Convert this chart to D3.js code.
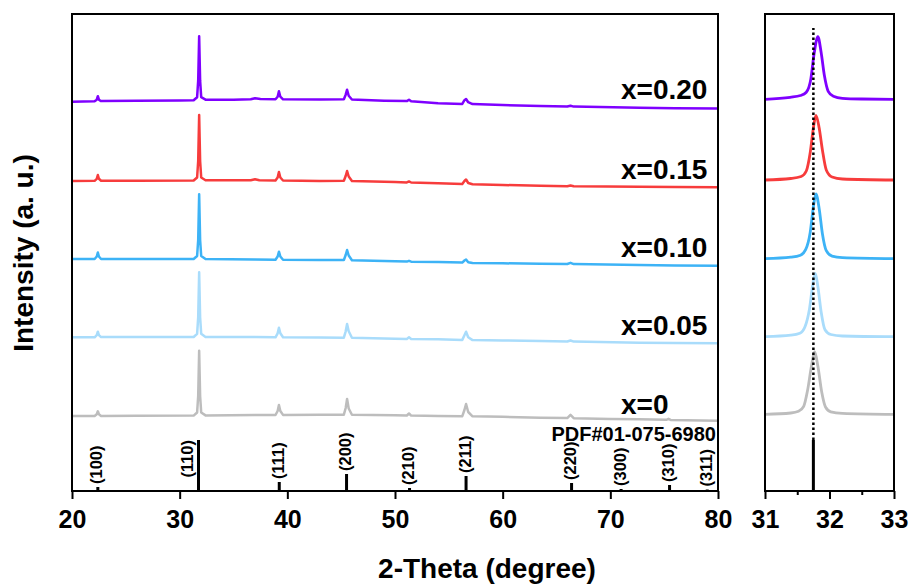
<!DOCTYPE html>
<html>
<head>
<meta charset="utf-8">
<script src="https://cdn.jsdelivr.net/npm/d3@7"></script>
<style>
  html, body { margin: 0; padding: 0; background: #fff; }
  svg { display: block; }
  text { font-family: "Liberation Sans", Arial, Helvetica, sans-serif; font-weight: bold; fill: #000; }
</style>
</head>
<body>
<svg id="chart" width="913" height="586"></svg>
<script>
// ---------- data ----------
// sample labels (doping level x), bottom to top
const seriesLabels = ["x=0", "x=0.05", "x=0.10", "x=0.15", "x=0.20"];

// vertical stacking offsets of each pattern (a.u.)
const mainOffsets = [75, 153.7, 232, 310, 389.3];
const zoomOffsets = [76.7, 154.3, 232.3, 311, 391.7];

// full-range patterns, [2-theta, intensity above offset]
const pattern_x000 = [[20,0],[22.1,0],[22.3,1.8],[22.4,4.7],[22.5,1.8],[22.7,0.1],[26,0.2],[31.3,0.4],[31.62,3.5],[31.72,20],[31.81,65.3],[31.9,20],[32.0,3.5],[32.4,0.6],[37,1],[38.9,1],[39.1,5],[39.22,11],[39.35,5],[39.6,1.1],[43,1.3],[45.25,1.3],[45.42,8],[45.55,17],[45.7,7.5],[46.0,1.2],[50,0.7],[51.1,0.5],[51.3,2.5],[51.5,0.4],[54,0],[56.25,-0.2],[56.45,6],[56.6,12],[56.8,4],[57.2,-0.3],[60,-0.8],[63.5,-1.7],[66,-2.1],[66.3,1.2],[66.6,-2.2],[70,-2.9],[72.7,-3.3],[75.2,-3.8],[75.4,-2.8],[75.6,-3.9],[80,-4.7]];
const pattern_x005 = [[20,0],[22.1,0],[22.3,2.2],[22.4,5.6],[22.5,2.2],[22.7,0.2],[26,0.3],[31.3,0.3],[31.62,3.5],[31.72,20],[31.81,65],[31.9,20],[32.0,3.5],[32.4,0.3],[37,0.3],[38.9,0],[39.1,4],[39.22,9.6],[39.35,4],[39.6,0],[43,-0.3],[45.25,-0.4],[45.42,6],[45.55,13.3],[45.7,6],[46.0,-0.5],[50,-1.4],[51.1,-1.6],[51.3,0],[51.5,-1.7],[54,-2],[56.25,-2.6],[56.45,2],[56.6,5.6],[56.8,0],[57.2,-2.8],[60,-3.1],[63.5,-3.7],[66,-4.2],[66.3,-3.2],[66.6,-4.3],[72.7,-5.4],[76,-5.7],[80,-6]];
const pattern_x010 = [[20,0],[22.1,0],[22.3,2.5],[22.4,6.5],[22.5,2.5],[22.7,0],[26,0],[31.3,0],[31.62,3],[31.72,19],[31.81,64.7],[31.9,19],[32.0,3],[32.4,0],[37,-0.5],[38.9,-0.7],[39.1,2.5],[39.22,7.3],[39.35,2.5],[39.6,-0.7],[43,-1],[45.25,-1],[45.42,4],[45.55,9],[45.7,3.5],[46.0,-1.2],[50,-2.3],[51.1,-2.6],[51.3,-1.8],[51.5,-2.7],[54,-3],[56.25,-3.6],[56.45,-1.5],[56.6,-0.5],[56.8,-3.2],[57.2,-3.9],[60,-4.3],[63.5,-4.7],[66,-5],[66.3,-3.8],[66.6,-5.1],[72.7,-6],[76,-6.4],[80,-6.7]];
const pattern_x015 = [[20,0],[22.1,0.2],[22.3,2.2],[22.4,6],[22.5,2.2],[22.7,0.3],[26,0.3],[31.3,0.5],[31.62,3.5],[31.72,20],[31.81,66],[31.9,20],[32.0,3.5],[32.4,0.8],[36.6,0.8],[37.0,1.8],[37.4,0.8],[38.9,0.6],[39.1,3.5],[39.22,9],[39.35,3.5],[39.6,0.5],[43,0.1],[45.25,0.2],[45.42,5],[45.55,10],[45.7,4.5],[46.0,0],[50,-1],[51.1,-1.4],[51.3,-0.4],[51.5,-1.5],[54,-2.2],[56.25,-3],[56.45,0],[56.6,1.5],[56.8,-2],[57.2,-3.2],[60,-4],[63.5,-4.8],[66,-5.2],[66.3,-4.5],[66.6,-5.3],[72.7,-5.8],[76,-6.1],[80,-6.3]];
const pattern_x020 = [[20,0],[22.1,0.5],[22.3,2],[22.4,5.5],[22.5,2],[22.7,0.6],[26,1],[30,1.2],[31.3,1.5],[31.62,4.5],[31.72,21],[31.81,65.5],[31.9,21],[32.0,4.5],[32.4,2],[35,2],[36.6,2.4],[37.0,3.5],[37.5,2.6],[38.9,2.4],[39.1,5],[39.22,10.5],[39.35,5],[39.6,2.4],[43,2.1],[45.25,2.5],[45.42,7],[45.55,12],[45.7,6],[46.0,2.2],[49,1],[51.1,0.6],[51.3,2],[51.5,0.4],[54,-1.6],[56.25,-2.2],[56.45,1.5],[56.6,2.7],[56.8,-0.5],[57.2,-2.4],[60,-3.4],[63.5,-4.3],[66,-4.8],[66.3,-4],[66.6,-4.9],[72.7,-6.1],[76,-6.5],[80,-6.8]];

// (110) peak region, 31-33 degrees, [2-theta, intensity above offset]
const zoom_x000 = [[31,0],[31.4,1.3],[31.52,3],[31.6,8],[31.66,24],[31.72,48],[31.77,62.6],[31.82,48],[31.88,22],[31.94,7],[32.02,2.5],[32.2,1],[33,0]];
const zoom_x005 = [[31,0],[31.4,1.5],[31.54,3.5],[31.62,10],[31.69,28],[31.74,52],[31.78,63.4],[31.82,50],[31.87,25],[31.93,7],[32.02,2.2],[32.2,0.7],[33,0]];
const zoom_x010 = [[31,0],[31.4,1.5],[31.55,3.5],[31.63,9],[31.7,26],[31.75,52],[31.79,64.7],[31.84,50],[31.89,25],[31.95,8],[32.04,2.5],[32.2,1],[33,0]];
const zoom_x015 = [[31,0],[31.4,1.5],[31.56,3.5],[31.64,9],[31.7,27],[31.75,52],[31.79,64.7],[31.84,52],[31.89,30],[31.95,10],[32.04,3],[32.2,1],[33,0]];
const zoom_x020 = [[31,0],[31.39,2],[31.55,3.8],[31.64,7],[31.71,20],[31.76,45],[31.82,62.6],[31.87,47],[31.92,24],[31.98,8],[32.06,3],[32.2,1],[32.5,0.3],[33,0]];

const mainPatterns = [pattern_x000, pattern_x005, pattern_x010, pattern_x015, pattern_x020];
const zoomPatterns = [zoom_x000, zoom_x005, zoom_x010, zoom_x015, zoom_x020];

// standard card reflections
const refCard = "PDF#01-075-6980";
const refPositions = [22.4, 31.75, 39.25, 45.5, 51.35, 56.6, 66.4, 71.0, 75.5, 79.0];
const refIntensities = [4, 51, 9, 17, 3, 15, 8, 2, 6, 1.5];
const refHkl = ["(100)", "(110)", "(111)", "(200)", "(210)", "(211)", "(220)", "(300)", "(310)", "(311)"];

// axes
const mainTicks = [20, 30, 40, 50, 60, 70, 80];
const zoomTicks = [31, 32, 33];
const zoomMinorTicks = [31.5, 32.5];
const guidePosition = 31.75;   // (110) reference position
const guideTop = 463;

const xTitle = "2-Theta (degree)";
const yTitle = "Intensity (a. u.)";

// ---------- styles ----------
const colors = ["#bdbdbd", "#a9dcfb", "#3db3f6", "#f73c3c", "#7f00ff"];

// ---------- drawing ----------
const svg = d3.select("#chart");
const mainBox = { left: 72, right: 718, top: 14, bottom: 491 };
const zoomBox = { left: 765, right: 894, top: 14, bottom: 491 };

const xMain = d3.scaleLinear().domain([20, 80]).range([mainBox.left, mainBox.right]);
const xZoom = d3.scaleLinear().domain([31, 33]).range([zoomBox.left, zoomBox.right]);
const y = d3.scaleLinear().domain([0, 477]).range([mainBox.bottom, mainBox.top]);

const defs = svg.append("defs");
[["clipMain", mainBox], ["clipZoom", zoomBox]].forEach(([id, b]) => {
  defs.append("clipPath").attr("id", id)
    .append("rect").attr("x", b.left).attr("y", b.top)
    .attr("width", b.right - b.left).attr("height", b.bottom - b.top);
});

// patterns in the full range
const gMain = svg.append("g").attr("clip-path", "url(#clipMain)");
mainPatterns.forEach((pts, i) => {
  const line = d3.line().x(d => xMain(d[0])).y(d => y(mainOffsets[i] + d[1]));
  gMain.append("path").datum(pts).attr("d", line)
    .attr("fill", "none").attr("stroke", colors[i])
    .attr("stroke-width", 2.5).attr("stroke-linejoin", "round").attr("stroke-linecap", "round");
});

// reference sticks
const gRef = svg.append("g");
refPositions.forEach((p, i) => {
  gRef.append("line")
    .attr("x1", xMain(p)).attr("x2", xMain(p))
    .attr("y1", y(0)).attr("y2", y(refIntensities[i]))
    .attr("stroke", "#000").attr("stroke-width", 3);
  const tall = refIntensities[i] > 40;
  const tx = xMain(p) + (tall ? -6 : 4.5);
  const ty = tall ? y(refIntensities[i]) : y(refIntensities[i]) - 3;
  gRef.append("text")
    .attr("transform", `translate(${tx},${ty}) rotate(-90)`)
    .attr("text-anchor", tall ? "end" : "start")
    .style("font-size", "16.5px")
    .text(refHkl[i]);
});
svg.append("text")
  .attr("x", 716).attr("y", 441)
  .attr("text-anchor", "end").style("font-size", "20px")
  .text(refCard);

// sample labels
seriesLabels.forEach((lab, i) => {
  svg.append("text")
    .attr("x", 621).attr("y", y(mainOffsets[i]) - 2.5)
    .attr("text-anchor", "start").style("font-size", "28px")
    .text(lab);
});

// patterns in the (110) window
const gZoom = svg.append("g").attr("clip-path", "url(#clipZoom)");
zoomPatterns.forEach((pts, i) => {
  const line = d3.line().curve(d3.curveMonotoneX)
    .x(d => xZoom(d[0])).y(d => y(zoomOffsets[i] + d[1]));
  gZoom.append("path").datum(pts).attr("d", line)
    .attr("fill", "none").attr("stroke", colors[i])
    .attr("stroke-width", 2.8).attr("stroke-linejoin", "round").attr("stroke-linecap", "round");
});
// reference stick and guide line in the window
gZoom.append("line")
  .attr("x1", xZoom(guidePosition)).attr("x2", xZoom(guidePosition))
  .attr("y1", y(0)).attr("y2", y(refIntensities[1]))
  .attr("stroke", "#000").attr("stroke-width", 3);
gZoom.append("line")
  .attr("x1", xZoom(guidePosition)).attr("x2", xZoom(guidePosition))
  .attr("y1", y(refIntensities[1])).attr("y2", y(guideTop))
  .attr("stroke", "#000").attr("stroke-width", 2.5).attr("stroke-dasharray", "2.5,2.5");

// frames
[mainBox, zoomBox].forEach(b => {
  svg.append("rect")
    .attr("x", b.left).attr("y", b.top)
    .attr("width", b.right - b.left).attr("height", b.bottom - b.top)
    .attr("fill", "none").attr("stroke", "#000").attr("stroke-width", 2);
});

// x axes
function styleAxis(g) {
  g.select(".domain").remove();
  g.selectAll(".tick line").attr("stroke", "#000").attr("stroke-width", 2);
  g.selectAll(".tick text").attr("fill", "#000")
    .style("font-size", "25px").style("font-weight", "bold")
    .style("font-family", "'Liberation Sans', Arial, Helvetica, sans-serif");
}
svg.append("g").attr("transform", `translate(0,${mainBox.bottom})`)
  .call(d3.axisBottom(xMain).tickValues(mainTicks).tickSize(8).tickPadding(11).tickFormat(d3.format("d")))
  .call(styleAxis);
svg.append("g").attr("transform", `translate(0,${zoomBox.bottom})`)
  .call(d3.axisBottom(xZoom).tickValues(zoomTicks).tickSize(8).tickPadding(11).tickFormat(d3.format("d")))
  .call(styleAxis);
svg.append("g").attr("transform", `translate(0,${zoomBox.bottom})`)
  .call(d3.axisBottom(xZoom).tickValues(zoomMinorTicks).tickSize(4).tickFormat(""))
  .call(styleAxis);

// axis titles
svg.append("text")
  .attr("x", 487).attr("y", 578)
  .attr("text-anchor", "middle").style("font-size", "28px")
  .text(xTitle);
svg.append("text")
  .attr("transform", "translate(33,253) rotate(-90)")
  .attr("text-anchor", "middle").style("font-size", "28px")
  .text(yTitle);
</script>
</body>
</html>
